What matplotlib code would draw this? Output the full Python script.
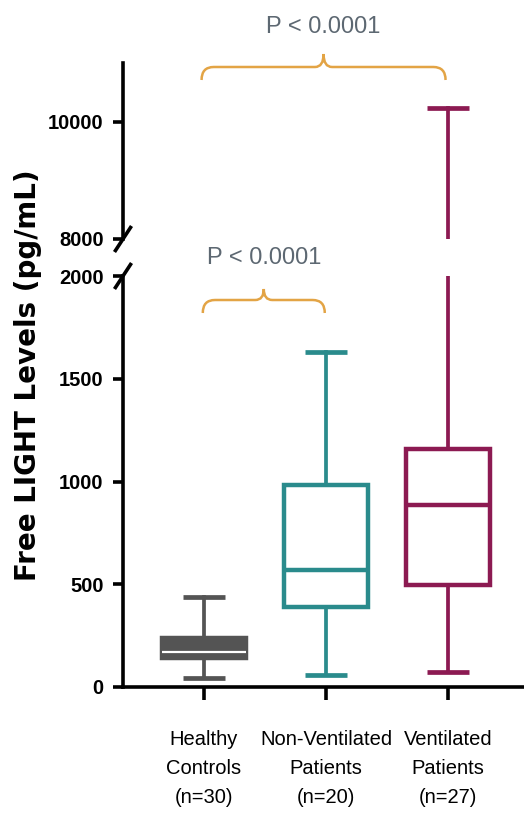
import matplotlib
matplotlib.use("Agg")
import matplotlib.pyplot as plt
from matplotlib import font_manager, transforms
from matplotlib.path import Path
from matplotlib.patches import PathPatch

# box summary values (pg/mL)
groups = ["Healthy\nControls\n(n=30)", "Non-Ventilated\nPatients\n(n=20)", "Ventilated\nPatients\n(n=27)"]
mins = [44, 58, 73]
q1s = [141, 390, 497]
medians = [170, 570, 886]
q3s = [239, 984, 1159]
maxs = [437, 1632, 10240]
colors = ["#545454", "#2a8b8c", "#8c1a52"]

low_ticks = [0, 500, 1000, 1500, 2000]
high_ticks = [8000, 10000]

names = set(f.name for f in font_manager.fontManager.ttflist)
if "Liberation Sans Narrow" in names:
    narrow = "Liberation Sans Narrow"
    tick_fs, cat_fs, p_fs = 15, 14.5, 17
else:
    narrow = "Liberation Sans"
    tick_fs, cat_fs, p_fs = 14.5, 14.5, 17

W, H = 524, 816
fig = plt.figure(figsize=(W / 100, H / 100), dpi=100)

left = 123 / W
width = 1 - left
ax_low = fig.add_axes([left, (H - 687) / H, width, (687 - 276) / H])
ax_high = fig.add_axes([left, (H - 239) / H, width, (239 - 63) / H])

stats = []
for i in range(3):
    stats.append(dict(whislo=mins[i], q1=q1s[i], med=medians[i], q3=q3s[i], whishi=maxs[i], fliers=[]))

for ax in (ax_low, ax_high):
    ax.patch.set_visible(False)
    bp = ax.bxp(stats, positions=[1, 2, 3], widths=0.69, capwidths=0.35,
                patch_artist=True, showfliers=False)
    for i in range(3):
        c = colors[i]
        face = c if i == 0 else "white"
        bp["boxes"][i].set(facecolor=face, edgecolor=c, linewidth=3.2, zorder=3)
        bp["medians"][i].set(color="white" if i == 0 else c,
                             linewidth=1.6 if i == 0 else 3.2, zorder=4)
        for j in (2 * i, 2 * i + 1):
            bp["whiskers"][j].set(color=c, linewidth=2.7, zorder=2)
            bp["caps"][j].set(color=c, linewidth=3.4, solid_capstyle="butt", zorder=2)
    ax.set_xlim(0.336, 3.623)
    for s in ("top", "right"):
        ax.spines[s].set_visible(False)
    ax.spines["left"].set_linewidth(2.6)
    ax.spines["bottom"].set_linewidth(2.6)
    ax.tick_params(axis="y", length=7, width=2.6, pad=7, labelsize=tick_fs)

ax_low.set_ylim(0, 2000)
ax_low.set_yticks(low_ticks)
ax_low.set_yticklabels([str(t) for t in low_ticks], fontfamily=narrow,
                       fontweight="bold", fontsize=tick_fs)
ax_low.set_xticks([1, 2, 3])
ax_low.set_xticklabels(groups, fontfamily=narrow, fontsize=cat_fs, linespacing=1.65)
ax_low.tick_params(axis="x", length=9, width=2.6, pad=22)

ax_high.set_ylim(8000, 11000)
ax_high.set_yticks(high_ticks)
ax_high.set_yticklabels([str(t) for t in high_ticks], fontfamily=narrow,
                        fontweight="bold", fontsize=tick_fs)
ax_high.spines["bottom"].set_visible(False)
ax_high.set_xticks([])

# break marks on the y axis
for ax, hpx in ((ax_low, 687 - 276), (ax_high, 239 - 63)):
    dx = 8.5 / (W - 123)
    dy = 13 / hpx
    y0 = 1 if ax is ax_low else 0
    ax.plot([-dx, dx], [y0 - dy, y0 + dy], transform=ax.transAxes,
            color="black", lw=2.6, clip_on=False, solid_capstyle="butt")

fig.text(28 / W, (H - 375) / H, "Free LIGHT Levels (pg/mL)", rotation=90,
         ha="center", va="center", fontsize=20, fontweight="bold",
         fontfamily="DejaVu Sans")

# significance braces
trans = transforms.blended_transform_factory(ax_low.transData, fig.transFigure)


def brace(x0, x1, y_line, y_end, y_peak, r=0.1, rm=0.07):
    xc = (x0 + x1) / 2
    yl, ye, yp = [(H - v) / H for v in (y_line, y_end, y_peak)]
    verts = [(x0, ye), (x0, yl), (x0 + r, yl), (xc - rm, yl),
             (xc, yl), (xc, yp), (xc, yl), (xc + rm, yl),
             (x1 - r, yl), (x1, yl), (x1, ye)]
    codes = [Path.MOVETO, Path.CURVE3, Path.CURVE3, Path.LINETO,
             Path.CURVE3, Path.CURVE3, Path.CURVE3, Path.CURVE3,
             Path.LINETO, Path.CURVE3, Path.CURVE3]
    p = PathPatch(Path(verts, codes), transform=trans, facecolor="none",
                  edgecolor="#e3a445", lw=1.8, clip_on=False, zorder=5)
    ax_high.add_patch(p)
    return xc


xc = brace(1 - 0.02, 3 - 0.02, 67, 80, 54)
ax_high.text(xc, (H - 27) / H, "P < 0.0001", transform=trans, ha="center", va="center",
             fontsize=p_fs, color="#5d6872", fontfamily=narrow)
xc = brace(1 - 0.01, 2 - 0.01, 300, 313, 289)
ax_high.text(xc, (H - 258) / H, "P < 0.0001", transform=trans, ha="center", va="center",
             fontsize=p_fs, color="#5d6872", fontfamily=narrow)

fig.savefig("out.png", dpi=100)
